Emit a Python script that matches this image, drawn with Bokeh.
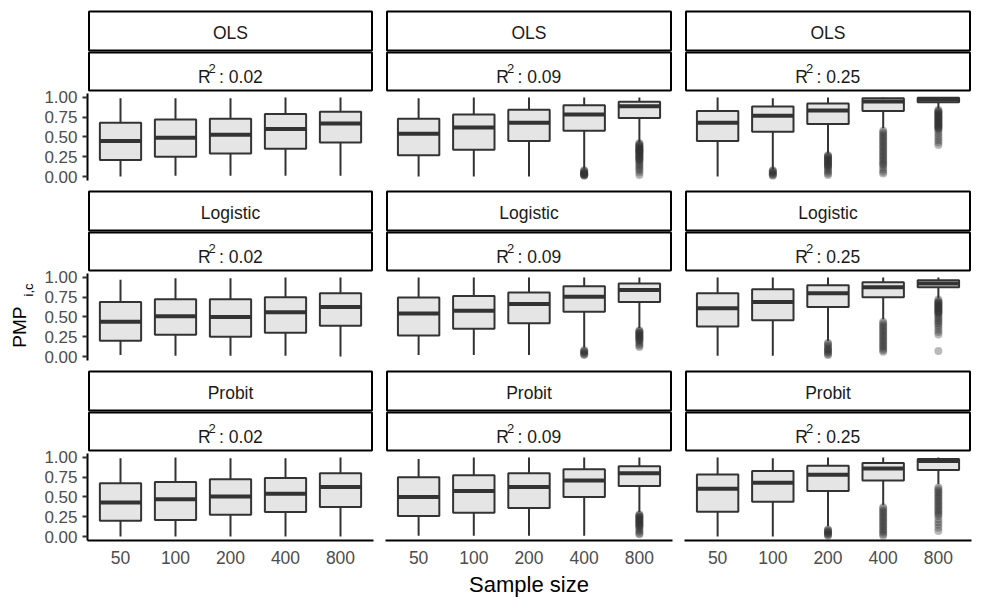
import math
from bokeh.plotting import figure
from bokeh.layouts import row, column
from bokeh.models import Range1d, FactorRange, FixedTicker, NumeralTickFormatter, ColumnDataSource
from bokeh.core.properties import value
from bokeh.embed import file_html
from bokeh.resources import INLINE

# ---------------- data ----------------
sample_sizes = ["50", "100", "200", "400", "800"]
models = ["OLS", "Logistic", "Probit"]
r2_labels = ["0.02", "0.09", "0.25"]
y_ticks = [0.0, 0.25, 0.5, 0.75, 1.0]

# each: one list per R2 level, 5 values per list (sample sizes)
ols_lower = [[0.00, 0.01, 0.01, 0.01, 0.01], [0.00, 0.00, 0.00, 0.10, 0.43], [0.00, 0.09, 0.29, 0.61, 0.86]]
ols_q1 = [[0.21, 0.25, 0.29, 0.35, 0.43], [0.27, 0.34, 0.45, 0.58, 0.74], [0.45, 0.565, 0.665, 0.83, 0.94]]
ols_med = [[0.45, 0.49, 0.53, 0.60, 0.67], [0.54, 0.62, 0.68, 0.785, 0.89], [0.68, 0.77, 0.835, 0.95, 0.975]]
ols_q3 = [[0.68, 0.72, 0.73, 0.79, 0.82], [0.73, 0.785, 0.845, 0.90, 0.945], [0.83, 0.885, 0.925, 0.99, 0.995]]
ols_upper = [[0.99, 0.99, 0.99, 1.0, 1.0], [0.99, 1.0, 1.0, 1.0, 1.0], [1.0, 0.99, 1.0, 1.0, 1.0]]

logit_lower = [[0.02, 0.01, 0.01, 0.01, 0.00], [0.02, 0.02, 0.02, 0.11, 0.36], [0.01, 0.01, 0.20, 0.47, 0.74]]
logit_q1 = [[0.20, 0.275, 0.25, 0.30, 0.39], [0.265, 0.35, 0.42, 0.565, 0.69], [0.38, 0.46, 0.625, 0.75, 0.875]]
logit_med = [[0.44, 0.51, 0.50, 0.56, 0.625], [0.545, 0.58, 0.665, 0.755, 0.84], [0.61, 0.69, 0.80, 0.875, 0.925]]
logit_q3 = [[0.69, 0.725, 0.725, 0.75, 0.80], [0.745, 0.765, 0.81, 0.89, 0.925], [0.80, 0.85, 0.90, 0.94, 0.965]]
logit_upper = [[0.97, 0.99, 0.99, 1.0, 1.0], [1.0, 1.0, 1.0, 1.0, 1.0], [1.0, 1.0, 1.0, 1.0, 1.0]]

probit_lower = [[0.00, 0.00, 0.00, 0.00, 0.00], [0.01, 0.01, 0.01, 0.01, 0.31], [0.00, 0.00, 0.13, 0.40, 0.66]]
probit_q1 = [[0.20, 0.21, 0.275, 0.31, 0.375], [0.26, 0.30, 0.36, 0.50, 0.64], [0.315, 0.44, 0.575, 0.71, 0.84]]
probit_med = [[0.43, 0.47, 0.505, 0.54, 0.625], [0.50, 0.575, 0.625, 0.71, 0.80], [0.605, 0.68, 0.78, 0.86, 0.955]]
probit_q3 = [[0.675, 0.69, 0.725, 0.74, 0.80], [0.75, 0.775, 0.80, 0.85, 0.89], [0.785, 0.83, 0.895, 0.93, 0.98]]
probit_upper = [[0.99, 1.0, 0.99, 0.99, 1.0], [0.98, 1.0, 1.0, 1.0, 1.0], [1.0, 0.99, 1.0, 1.0, 1.0]]

ols_outliers = [
    [[], [], [], [], []],
    [[], [], [],
     [0.01, 0.015, 0.02, 0.025, 0.03, 0.035, 0.04, 0.045, 0.05, 0.06, 0.07, 0.08],
     [0.42, 0.41, 0.40, 0.39, 0.38, 0.37, 0.36, 0.35, 0.345, 0.34, 0.33, 0.32, 0.315, 0.31, 0.30,
      0.29, 0.28, 0.27, 0.26, 0.25, 0.24, 0.23, 0.22, 0.21, 0.20, 0.18, 0.16, 0.14, 0.12, 0.10,
      0.08, 0.05, 0.02]],
    [[],
     [0.01, 0.02, 0.03, 0.04, 0.05, 0.06, 0.07, 0.08],
     [0.27, 0.26, 0.25, 0.24, 0.23, 0.22, 0.21, 0.20, 0.19, 0.18, 0.17, 0.16, 0.15, 0.14, 0.13,
      0.12, 0.10, 0.08, 0.06, 0.04, 0.02],
     [0.58, 0.56, 0.54, 0.52, 0.50, 0.48, 0.46, 0.44, 0.42, 0.40, 0.38, 0.36, 0.34, 0.32, 0.30,
      0.28, 0.26, 0.24, 0.22, 0.20, 0.18, 0.16, 0.15, 0.12, 0.09, 0.06, 0.04],
     [0.84, 0.83, 0.82, 0.81, 0.80, 0.79, 0.78, 0.77, 0.76, 0.75, 0.74, 0.73, 0.72, 0.71, 0.70,
      0.69, 0.68, 0.67, 0.66, 0.65, 0.64, 0.63, 0.62, 0.61, 0.60, 0.58, 0.55, 0.52, 0.49, 0.46,
      0.43, 0.40]],
]
logit_outliers = [
    [[], [], [], [], []],
    [[], [], [],
     [0.02, 0.03, 0.04, 0.05, 0.06, 0.07, 0.08],
     [0.33, 0.32, 0.31, 0.30, 0.29, 0.28, 0.27, 0.26, 0.25, 0.24, 0.23, 0.22, 0.21, 0.20, 0.18,
      0.16, 0.14, 0.12]],
    [[], [],
     [0.02, 0.03, 0.05, 0.06, 0.08, 0.09, 0.10, 0.12, 0.14, 0.16, 0.17],
     [0.44, 0.42, 0.40, 0.38, 0.36, 0.34, 0.32, 0.30, 0.28, 0.26, 0.24, 0.22, 0.20, 0.18, 0.16,
      0.14, 0.12, 0.10, 0.08, 0.06],
     [0.72, 0.70, 0.69, 0.68, 0.67, 0.66, 0.65, 0.64, 0.63, 0.62, 0.61, 0.60, 0.59, 0.58, 0.57,
      0.56, 0.55, 0.54, 0.52, 0.50, 0.48, 0.46, 0.44, 0.42, 0.40, 0.37, 0.34, 0.31, 0.28, 0.07]],
]
probit_outliers = [
    [[], [], [], [], []],
    [[], [], [], [],
     [0.28, 0.27, 0.26, 0.25, 0.24, 0.23, 0.22, 0.21, 0.20, 0.19, 0.18, 0.17, 0.16, 0.15, 0.14,
      0.13, 0.12, 0.10, 0.08, 0.06, 0.04, 0.03]],
    [[], [],
     [0.01, 0.02, 0.03, 0.04, 0.05, 0.06, 0.07, 0.08, 0.09],
     [0.37, 0.35, 0.33, 0.31, 0.29, 0.27, 0.25, 0.23, 0.21, 0.19, 0.17, 0.15, 0.13, 0.11, 0.09,
      0.07, 0.05, 0.03, 0.01],
     [0.62, 0.60, 0.58, 0.56, 0.54, 0.52, 0.50, 0.48, 0.46, 0.44, 0.42, 0.40, 0.38, 0.36, 0.34,
      0.32, 0.30, 0.28, 0.26, 0.22, 0.18, 0.15, 0.11, 0.07]],
]

stats = {
    "OLS": (ols_lower, ols_q1, ols_med, ols_q3, ols_upper, ols_outliers),
    "Logistic": (logit_lower, logit_q1, logit_med, logit_q3, logit_upper, logit_outliers),
    "Probit": (probit_lower, probit_q1, probit_med, probit_q3, probit_upper, probit_outliers),
}

# ---------------- style / layout ----------------
FONT = "Liberation Sans"
BOX_FILL = "#E5E5E5"
DARK = "#333333"
TICK_COL = "#4D4D4D"

TITLE_W = 40
FRAME_W = [286, 287, 287]
LEFT_B = [47, 6, 6]
RIGHT_B = [6, 6, 11]
FRAME_H = 171                       # strips + panel
Y0, Y1 = -0.05, 2.112               # panel data occupies -0.05 .. 1.05, strips above
KPX = 87 / 1.1                      # pixels per data unit (vertical)
TOP_B = [9, 1, 1]
BOT_B = [8, 8, 67]
X_PAD = 0.1                         # discrete range padding on each side


def ypix(px_from_top):
    # data value located px_from_top pixels below the frame top
    return Y1 - px_from_top / KPX


def panel_fig(r, c, model):
    lower, q1, med, q3, upper, outs = stats[model]
    last_row = (r == 2)
    w = LEFT_B[c] + FRAME_W[c] + RIGHT_B[c]
    h = TOP_B[r] + FRAME_H + BOT_B[r]
    xr = FactorRange(factors=sample_sizes, range_padding=X_PAD, range_padding_units="absolute")
    p = figure(width=w, height=h, x_range=xr, y_range=Range1d(Y0, Y1),
               toolbar_location=None, output_backend="svg", title=None,
               x_axis_location="below" if last_row else None,
               y_axis_location="left" if c == 0 else None,
               min_border_left=LEFT_B[c], min_border_right=RIGHT_B[c],
               min_border_top=TOP_B[r], min_border_bottom=BOT_B[r])
    p.grid.visible = False
    p.outline_line_color = None

    # ---- strips (two stacked labelled boxes above the panel) ----
    span = len(sample_sizes) + 2 * X_PAD
    xpx = FRAME_W[c] / span
    x_lo = -X_PAD + 1.5 / xpx
    x_hi = len(sample_sizes) + X_PAD - 1.5 / xpx
    xc = len(sample_sizes) / 2
    p.quad(left=[x_lo, x_lo], right=[x_hi, x_hi],
           top=[ypix(2), ypix(43)], bottom=[ypix(41), ypix(81)],
           fill_color="white", line_color="black", line_width=2)
    p.text(x=[xc], y=[ypix(23.3)], text=[model], text_align="center",
           text_baseline="alphabetic", text_font=value(FONT), text_font_size="17.5px",
           text_color="#1A1A1A")
    p.text(x=[xc - 0.114 * span], y=[ypix(67.2)], text=["R"], text_align="left",
           text_baseline="alphabetic", text_font=value(FONT), text_font_size="17.5px",
           text_color="#1A1A1A")
    p.text(x=[xc - 0.077 * span], y=[ypix(59.2)], text=["2"], text_align="left",
           text_baseline="alphabetic", text_font=value(FONT), text_font_size="13px",
           text_color="#1A1A1A")
    p.text(x=[xc - 0.040 * span], y=[ypix(67.2)], text=[": " + r2_labels[c]], text_align="left",
           text_baseline="alphabetic", text_font=value(FONT), text_font_size="17.5px",
           text_color="#1A1A1A")

    # ---- boxplots ----
    src = ColumnDataSource(dict(x=sample_sizes, lower=lower[c], q1=q1[c], med=med[c],
                                q3=q3[c], upper=upper[c]))
    ox = [sample_sizes[i] for i, vals in enumerate(outs[c]) for _ in vals]
    oy = [v for vals in outs[c] for v in vals]
    if oy:
        p.scatter(x=ox, y=oy, size=8, fill_color=DARK, fill_alpha=0.34, line_color=None)
    p.segment(x0="x", y0="lower", x1="x", y1="q1", source=src, line_color=DARK, line_width=2)
    p.segment(x0="x", y0="q3", x1="x", y1="upper", source=src, line_color=DARK, line_width=2)
    p.vbar(x="x", bottom="q1", top="q3", width=0.75, source=src,
           fill_color=BOX_FILL, line_color=DARK, line_width=2)
    p.rect(x="x", y="med", width=0.75, height=4, height_units="screen", source=src,
           fill_color=DARK, line_color=None)

    if c == 0:
        ax = p.yaxis[0]
        ax.bounds = (Y0, 1.05)
        ax.ticker = FixedTicker(ticks=y_ticks)
        ax.formatter = NumeralTickFormatter(format="0.00")
        ax.axis_line_color = "black"
        ax.axis_line_width = 2
        ax.major_tick_line_color = DARK
        ax.major_tick_line_width = 2
        ax.major_tick_out = 5
        ax.major_tick_in = 0
        ax.minor_tick_line_color = None
        ax.major_label_standoff = 5
        ax.major_label_text_font = FONT
        ax.major_label_text_font_size = "17px"
        ax.major_label_text_color = TICK_COL
    if last_row:
        ax = p.xaxis[0]
        ax.axis_line_color = "black"
        ax.axis_line_width = 2
        ax.major_tick_line_color = None
        ax.major_tick_out = 0
        ax.major_tick_in = 0
        ax.minor_tick_line_color = None
        ax.major_label_standoff = 10
        ax.major_label_text_font = FONT
        ax.major_label_text_font_size = "17.5px"
        ax.major_label_text_color = TICK_COL
        if c == 1:
            ax.axis_label = "Sample size"
            ax.axis_label_text_font = FONT
            ax.axis_label_text_font_size = "22px"
            ax.axis_label_text_font_style = "normal"
            ax.axis_label_text_color = "black"
            ax.axis_label_standoff = 5
    return p


columns = []
for c in range(3):
    items = [panel_fig(r, c, model) for r, model in enumerate(models)]
    columns.append(column(*items, spacing=0))

# y-axis title
t = figure(width=TITLE_W, height=607, x_range=Range1d(0, TITLE_W), y_range=Range1d(0, 607),
           toolbar_location=None, output_backend="svg", title=None,
           x_axis_location=None, y_axis_location=None, min_border=0)
t.grid.visible = False
t.outline_line_color = None
t.text(x=[19], y=[607 - 326.7], text=["PMP"], angle=math.pi / 2, text_align="center",
       text_baseline="alphabetic", text_font=value(FONT), text_font_size="19px", text_color="black")
t.text(x=[28], y=[607 - 289.5], text=["i,c"], angle=math.pi / 2, text_align="center",
       text_baseline="alphabetic", text_font=value(FONT), text_font_size="13px", text_color="black")

layout = row(t, *columns, spacing=0)

open("out.html", "w").write(file_html(layout, INLINE))
